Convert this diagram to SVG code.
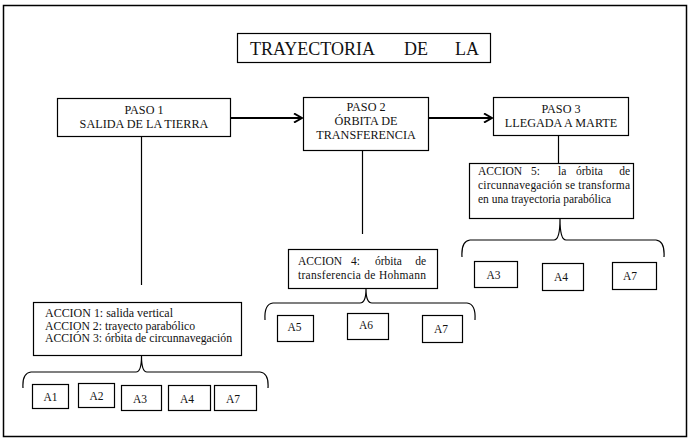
<svg xmlns="http://www.w3.org/2000/svg" width="692" height="443" viewBox="0 0 692 443">
<defs>
<style>
.box{fill:#fff;stroke:#000;stroke-width:1.2}
.t{font-family:"Liberation Serif","Times New Roman",serif;font-size:11.5px;fill:#111}
.p{font-family:"Liberation Serif","Times New Roman",serif;font-size:12.2px;fill:#111;text-anchor:middle}
.c{fill:none;stroke:#000;stroke-width:1.2}
.a{fill:none;stroke:#000;stroke-width:2.2}
</style>
<marker id="arr" viewBox="0 0 10 10" refX="9" refY="5" markerWidth="10" markerHeight="10" markerUnits="userSpaceOnUse" orient="auto">
<path d="M1,0.5 L9,5 L1,9.5" fill="none" stroke="#000" stroke-width="2"/>
</marker>
</defs>
<rect x="0" y="0" width="692" height="443" fill="#fff"/>
<rect x="3.5" y="5.5" width="683" height="431" fill="none" stroke="#000" stroke-width="1.5"/>

<g id="connectors">
<line class="a" x1="231" y1="118" x2="302" y2="118" marker-end="url(#arr)"/>
<line class="a" x1="429" y1="118" x2="492" y2="118" marker-end="url(#arr)"/>
<line class="c" x1="141.5" y1="137" x2="141.5" y2="285"/>
<line class="c" x1="362.5" y1="151" x2="362.5" y2="234"/>
<line class="c" x1="558.5" y1="136" x2="558.5" y2="163"/>
<path class="c" d="M23,388 Q22,373 31,372 H136 Q141.5,372 141.5,356 Q141.5,372 147,372 H260 Q269,373 268,388"/>
<path class="c" d="M265,320 Q264,304 273,303 H360 Q366,303 366,289 Q366,303 372,303 H467 Q476,304 475,320"/>
<path class="c" d="M462,257 Q461,241 470,240 H554 Q560,240 560,219 Q560,240 566,240 H656 Q665,241 664,257"/>
</g>

<g id="title">
<rect class="box" x="237.5" y="33.5" width="253" height="29"/>
<text font-family="Liberation Serif,'Times New Roman',serif" font-size="18" fill="#111" y="55"><tspan x="250">TRAYECTORIA</tspan><tspan x="404">DE</tspan><tspan x="455">LA</tspan></text>
</g>

<g id="paso1">
<rect class="box" x="57.5" y="98.5" width="173" height="38"/>
<text class="p" x="144" y="114">PASO 1</text>
<text class="p" x="144" y="128">SALIDA DE LA TIERRA</text>
</g>

<g id="paso2">
<rect class="box" x="303.5" y="97.5" width="125" height="53"/>
<text class="p" x="366" y="111">PASO 2</text>
<text class="p" x="366" y="125">ÓRBITA DE</text>
<text class="p" x="366" y="139">TRANSFERENCIA</text>
</g>

<g id="paso3">
<rect class="box" x="493.5" y="97.5" width="135" height="38"/>
<text class="p" x="561" y="113">PASO 3</text>
<text class="p" x="561" y="127">LLEGADA A MARTE</text>
</g>

<g id="accion13">
<rect class="box" x="33.5" y="302.5" width="208" height="53"/>
<text class="t" x="45" y="317" textLength="128" lengthAdjust="spacingAndGlyphs">ACCION 1: salida vertical</text>
<text class="t" x="45" y="329.5" textLength="150" lengthAdjust="spacingAndGlyphs">ACCION 2: trayecto parabólico</text>
<text class="t" x="45" y="342" textLength="187" lengthAdjust="spacingAndGlyphs">ACCIÓN 3: órbita de circunnavegación</text>
</g>

<g id="accion4">
<rect class="box" x="288.5" y="249.5" width="149" height="39"/>
<text class="t" y="265"><tspan x="298">ACCION</tspan><tspan x="351">4:</tspan><tspan x="375">órbita</tspan></text>
<text class="t" x="426" y="265" text-anchor="end">de</text>
<text class="t" x="298" y="279" textLength="128" lengthAdjust="spacing">transferencia de Hohmann</text>
</g>

<g id="accion5">
<rect class="box" x="469.5" y="163.5" width="164" height="55"/>
<text class="t" y="175"><tspan x="478">ACCION</tspan><tspan x="531">5:</tspan><tspan x="558">la</tspan><tspan x="576">órbita</tspan></text>
<text class="t" x="630" y="175" text-anchor="end">de</text>
<text class="t" x="478" y="189" textLength="152" lengthAdjust="spacing">circunnavegación se transforma</text>
<text class="t" x="478" y="203">en una trayectoria parabólica</text>
</g>

<g id="a1-1"><rect class="box" x="32.5" y="384.5" width="36" height="24"/><text class="t" x="50.5" y="401" text-anchor="middle">A1</text></g>
<g id="a2-1"><rect class="box" x="78.5" y="383.5" width="36" height="24"/><text class="t" x="96.5" y="400" text-anchor="middle">A2</text></g>
<g id="a3-1"><rect class="box" x="121.5" y="385.5" width="40" height="25"/><text class="t" x="140" y="403" text-anchor="middle">A3</text></g>
<g id="a4-1"><rect class="box" x="168.5" y="385.5" width="42" height="25"/><text class="t" x="187" y="403" text-anchor="middle">A4</text></g>
<g id="a7-1"><rect class="box" x="214.5" y="385.5" width="42" height="25"/><text class="t" x="233" y="403" text-anchor="middle">A7</text></g>

<g id="a5-2"><rect class="box" x="277.5" y="315.5" width="36" height="26"/><text class="t" x="294.5" y="331" text-anchor="middle">A5</text></g>
<g id="a6-2"><rect class="box" x="347.5" y="313.5" width="41" height="26"/><text class="t" x="366" y="329" text-anchor="middle">A6</text></g>
<g id="a7-2"><rect class="box" x="422.5" y="315.5" width="40" height="27"/><text class="t" x="441" y="333" text-anchor="middle">A7</text></g>

<g id="a3-3"><rect class="box" x="474.5" y="261.5" width="43" height="26"/><text class="t" x="493.5" y="279" text-anchor="middle">A3</text></g>
<g id="a4-3"><rect class="box" x="542.5" y="263.5" width="41" height="27"/><text class="t" x="561" y="281" text-anchor="middle">A4</text></g>
<g id="a7-3"><rect class="box" x="612.5" y="262.5" width="44" height="27"/><text class="t" x="630" y="280" text-anchor="middle">A7</text></g>
</svg>
